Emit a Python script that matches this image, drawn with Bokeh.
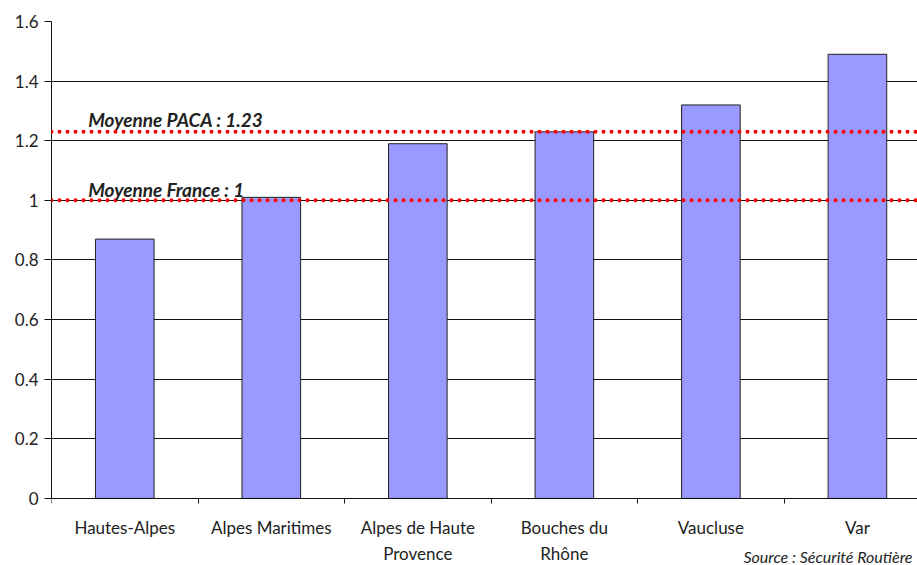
from bokeh.plotting import figure
from bokeh.models import Range1d, FixedTicker, Span, Label, NumeralTickFormatter
from bokeh.embed import file_html
from bokeh.resources import INLINE

# Accident index per département (PACA region)
departements = ["Hautes-Alpes", "Alpes Maritimes", "Alpes de Haute\nProvence",
                "Bouches du\nRhône", "Vaucluse", "Var"]
indices = [0.87, 1.01, 1.19, 1.23, 1.32, 1.49]

# Reference averages
moyenne_paca = 1.23
moyenne_france = 1

y_ticks = [0, 0.2, 0.4, 0.6, 0.8, 1, 1.2, 1.4, 1.6]
y_max = 1.6
source_note = "Source : Sécurité Routière"

FONT = "Lato"
TEXT_COLOR = "#222222"

positions = [i + 0.5 for i in range(len(departements))]
boundaries = list(range(len(departements) + 1))

# The frame runs down to the bottom of the canvas; the x axis is pinned at y=0
# so that the category labels and the source note share the space below it.
p = figure(width=917, height=565, output_backend="svg", toolbar_location=None,
           x_range=Range1d(0, 5.91), y_range=Range1d(-0.225, y_max),
           min_border_left=51, min_border_right=0,
           min_border_top=21, min_border_bottom=0)
p.outline_line_color = None
p.background_fill_color = "white"
p.border_fill_color = "white"

# Bars
p.vbar(x=positions, top=indices, bottom=0, width=0.4,
       fill_color="#9999FF", line_color="#222222", line_width=1)

# Horizontal grid
p.xgrid.visible = False
p.ygrid.ticker = FixedTicker(ticks=y_ticks)
p.ygrid.grid_line_color = "#111111"
p.ygrid.grid_line_width = 1

# Y axis
p.yaxis.ticker = FixedTicker(ticks=y_ticks)
p.yaxis.bounds = (0, y_max)
p.yaxis.formatter = NumeralTickFormatter(format="0.[0]")
p.yaxis.major_tick_out = 7
p.yaxis.major_tick_in = 0
p.yaxis.minor_tick_line_color = None
p.yaxis.major_label_standoff = 6
p.yaxis.axis_line_color = "#111111"
p.yaxis.major_tick_line_color = "#111111"
p.yaxis.major_label_text_font = FONT
p.yaxis.major_label_text_font_size = "17px"
p.yaxis.major_label_text_color = TEXT_COLOR

# X axis: labels centred on bars, tick marks between categories
p.xaxis.fixed_location = 0
p.xaxis.ticker = FixedTicker(ticks=positions, minor_ticks=boundaries)
p.xaxis.major_label_overrides = {pos: name for pos, name in zip(positions, departements)}
p.xaxis.major_tick_out = 0
p.xaxis.major_tick_in = 0
p.xaxis.minor_tick_out = 5
p.xaxis.minor_tick_in = 0
p.xaxis.minor_tick_line_color = "#111111"
p.xaxis.axis_line_color = "#111111"
p.xaxis.major_label_standoff = 14
p.xaxis.major_label_text_font = FONT
p.xaxis.major_label_text_font_size = "17px"
p.xaxis.major_label_text_line_height = 1.22
p.xaxis.major_label_text_color = TEXT_COLOR
p.xaxis.major_label_text_align = "center"

# Dotted reference lines
for level in (moyenne_paca, moyenne_france):
    p.add_layout(Span(location=level, dimension="width", line_color="#FF0000",
                      line_width=4, line_dash="0 8", line_cap="round"))

p.add_layout(Label(x=0.25, y=moyenne_paca, y_offset=12,
                   text=f"Moyenne PACA : {moyenne_paca}",
                   text_font=FONT, text_font_style="bold italic",
                   text_font_size="19px", text_color=TEXT_COLOR,
                   text_baseline="alphabetic"))
p.add_layout(Label(x=0.25, y=moyenne_france, y_offset=11,
                   text=f"Moyenne France : {moyenne_france}",
                   text_font=FONT, text_font_style="bold italic",
                   text_font_size="19px", text_color=TEXT_COLOR,
                   text_baseline="alphabetic"))

# Source note in the bottom-right corner
p.add_layout(Label(x=5.91, y=0, x_offset=-5, y_offset=-58, text=source_note,
                   text_font=FONT, text_font_style="italic",
                   text_font_size="16px", text_color=TEXT_COLOR,
                   text_align="right", text_baseline="alphabetic"))

open("out.html", "w").write(file_html(p, INLINE))
